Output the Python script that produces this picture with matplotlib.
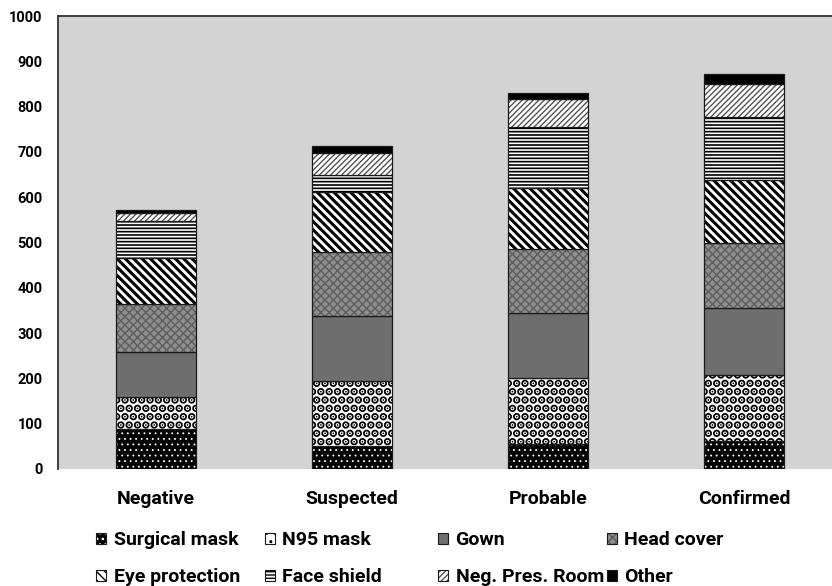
import numpy as np
import matplotlib
matplotlib.use("Agg")
import matplotlib.pyplot as plt
from matplotlib.patches import Patch

plt.rcParams['font.family'] = ['Roboto', 'DejaVu Sans']
plt.rcParams['font.weight'] = 'bold'

categories = ['Negative', 'Suspected', 'Probable', 'Confirmed']
series_names = ['Surgical mask', 'N95 mask', 'Gown', 'Head cover',
                'Eye protection', 'Face shield', 'Neg. Pres. Room', 'Other']

surgical_mask = [88, 51, 55, 62]
n95_mask = [71, 143, 146, 146]
gown = [99, 144, 143, 147]
head_cover = [106, 141, 142, 144]
eye_protection = [102, 132, 134, 139]
face_shield = [81, 38, 135, 139]
neg_pres_room = [18, 49, 62, 73]
other = [7, 15, 13, 22]

values = [surgical_mask, n95_mask, gown, head_cover,
          eye_protection, face_shield, neg_pres_room, other]

# face colour, hatch, hatch colour, hatch width
styles = [
    ('black', '...', 'white', 0.6),
    ('white', '..', 'black', 4.0),
    ('#6e6e6e', None, '#6e6e6e', 1.0),
    ('#8e8e8e', 'xxxx', '#5e5e5e', 1.0),
    ('white', '\\\\\\\\', 'black', 2.2),
    ('white', '-----', 'black', 1.2),
    ('white', '//////', '#555555', 1.0),
    ('black', None, 'black', 1.0),
]

fig = plt.figure(figsize=(8.32, 5.86), dpi=100)
ax = fig.add_axes([58 / 832, 1 - 469 / 586, 1 - 58 / 832, (469 - 16) / 586])
ax.set_facecolor('#d3d3d3')

x = np.arange(len(categories))
width = 0.41
bottom = np.zeros(len(categories))
handles = []
for vals, (fc, hatch, hc, hw) in zip(values, styles):
    with plt.rc_context({'hatch.linewidth': hw}):
        ax.bar(x, vals, width, bottom=bottom, color=fc, hatch=hatch,
               edgecolor=hc, linewidth=0)
        ax.bar(x, vals, width, bottom=bottom, fill=False,
               edgecolor='#1a1a1a', linewidth=0.9)
        handles.append((Patch(facecolor=fc, hatch=hatch, edgecolor=hc, linewidth=0),
                        Patch(fill=False, edgecolor='#1a1a1a', linewidth=0.8)))
    bottom += np.array(vals)

ax.set_xlim(-0.5, 3.449)
ax.set_ylim(0, 1000)
ax.set_yticks(range(0, 1001, 100))
ax.set_xticks(x)
ax.set_xticklabels(categories, fontsize=14, fontweight='bold')
ax.tick_params(axis='y', length=0, pad=11, labelsize=10.5)
ax.tick_params(axis='x', length=0, pad=15)
for lab in ax.get_yticklabels():
    lab.set_fontweight('bold')

for s in ['bottom', 'right']:
    ax.spines[s].set_visible(False)
for s in ['left', 'top']:
    ax.spines[s].set_color('#333333')
    ax.spines[s].set_linewidth(1.3)

# legend, laid out as in the original (two rows, four columns)
leg_x = [96, 265, 438, 607, 96, 265, 438, 607]
leg_y = [540, 540, 540, 540, 577, 577, 577, 577]
for h, name, lx, ly in zip(handles, series_names, leg_x, leg_y):
    fig.legend([h], [name], loc='center left',
               bbox_to_anchor=(lx / 832, 1 - ly / 586),
               frameon=False, borderpad=0, borderaxespad=0,
               handlelength=0.5, handleheight=0.5, handletextpad=0.4,
               prop={'size': 14, 'weight': 'bold'})

fig.savefig('out.png', dpi=100)
